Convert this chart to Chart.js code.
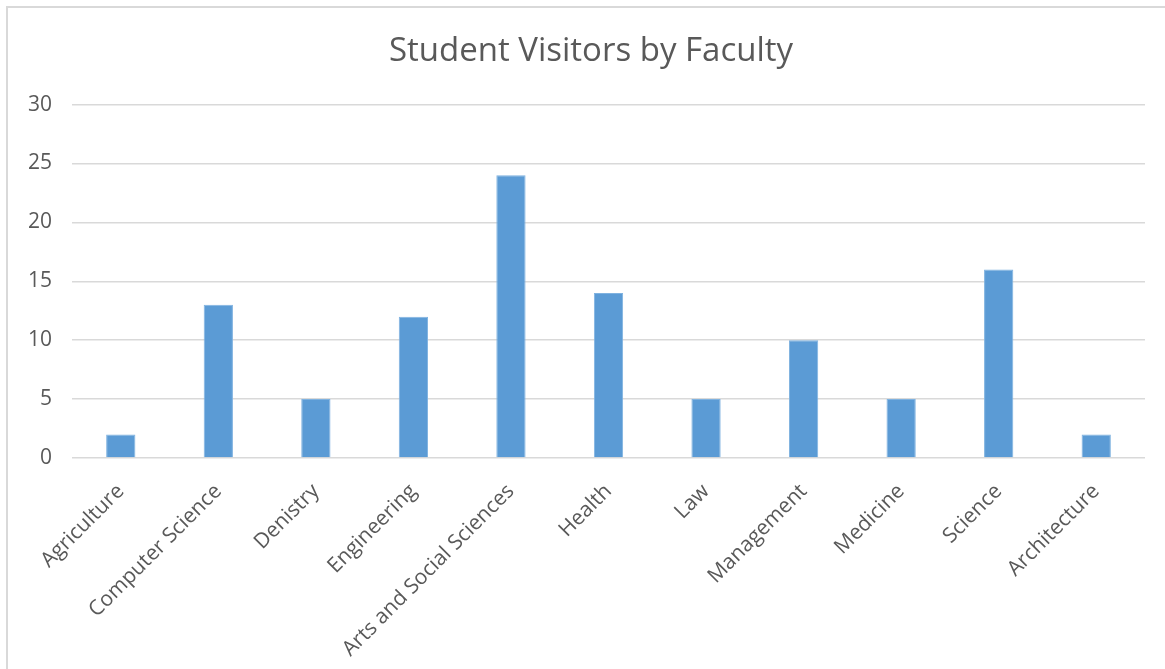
<!DOCTYPE html>
<html>
<head>
<meta charset="utf-8">
<script src="https://cdn.jsdelivr.net/npm/chart.js@4.4.1/dist/chart.umd.min.js"></script>
<style>
  html, body { margin: 0; padding: 0; background: #fff; }
  #wrap { position: relative; width: 1165px; height: 669px; overflow: hidden; }
  #frame { position: absolute; left: 6px; top: 6px; width: 1300px; height: 800px;
           border-left: 2px solid #d9d9d9; border-top: 2px solid #d9d9d9; box-sizing: border-box; }
  canvas { position: absolute; left: 0; top: 0; }
</style>
</head>
<body>
<div id="wrap">
  <div id="frame"></div>
  <canvas id="c" width="1165" height="669"></canvas>
</div>
<script>
const categories = ["Agriculture", "Computer Science", "Denistry", "Engineering", "Arts and Social Sciences",
                    "Health", "Law", "Management", "Medicine", "Science", "Architecture"];
const visitors = [2, 13, 5, 12, 24, 14, 5, 10, 5, 16, 2];
const yTicks = [0, 5, 10, 15, 20, 25, 30];
const chartTitle = "Student Visitors by Faculty";

const FONT = "'Open Sans', 'DejaVu Sans', sans-serif";
const TXT = "#595959";

new Chart(document.getElementById("c"), {
  type: "bar",
  data: {
    labels: categories,
    datasets: [{
      label: "Visitors",
      data: visitors,
      backgroundColor: "#5b9bd5",
      borderColor: "#7fb2e0",
      borderWidth: 1,
      barPercentage: 0.6,
      categoryPercentage: 0.5
    }]
  },
  options: {
    responsive: false,
    animation: false,
    devicePixelRatio: 1,
    layout: { padding: { left: 17, right: 0, top: 32, bottom: 0 } },
    plugins: {
      legend: { display: false },
      tooltip: { enabled: false },
      title: {
        display: true,
        text: chartTitle,
        color: TXT,
        font: { family: FONT, size: 33, weight: "normal" },
        padding: { top: 0, bottom: 33 }
      }
    },
    scales: {
      x: {
        grid: { display: false },
        border: { display: false },
        ticks: {
          color: TXT,
          font: { family: FONT, size: 21 },
          maxRotation: 45, minRotation: 45,
          autoSkip: false,
          padding: 13
        },
        afterFit: (s) => { s.height = 211; }
      },
      y: {
        min: 0, max: 30,
        afterBuildTicks: (s) => { s.ticks = yTicks.map(v => ({ value: v })); },
        grid: { color: "#d9d9d9", lineWidth: 1.5, drawTicks: false },
        border: { display: false },
        ticks: {
          color: TXT,
          font: { family: FONT, size: 21 },
          padding: 20
        },
        afterFit: (s) => { s.width = 55; }
      },
      yR: {
        position: "right",
        display: true,
        grid: { drawOnChartArea: false, drawTicks: false },
        border: { display: false },
        ticks: { display: false },
        afterFit: (s) => { s.width = 20; }
      }
    }
  }
});
</script>
</body>
</html>
